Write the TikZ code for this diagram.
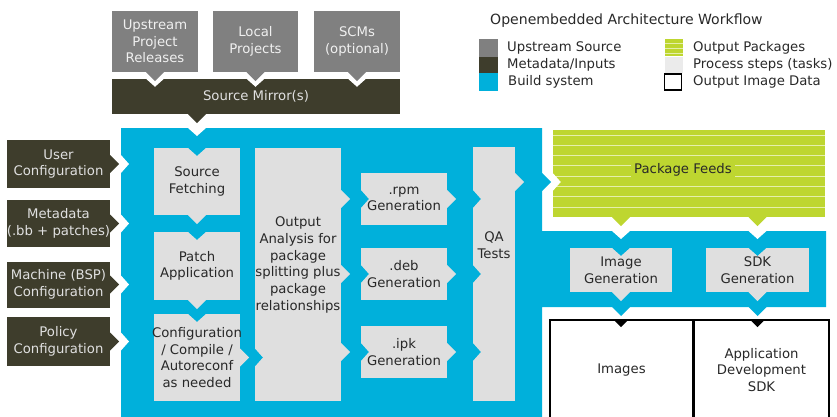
\documentclass[tikz,border=0pt]{standalone}
\usepackage{fontspec}
\setmainfont{DejaVu Sans}
\usetikzlibrary{calc}

\definecolor{cupstream}{RGB}{128,128,128}
\definecolor{cmeta}{RGB}{62,61,44}
\definecolor{cbuild}{RGB}{0,176,219}
\definecolor{ctask}{RGB}{223,223,223}
\definecolor{cpkg}{RGB}{190,214,48}
\definecolor{ctxt}{RGB}{40,40,40}

\tikzset{
  sz/.style 2 args={minimum width=#1*0.03cm, minimum height=#2*0.03cm},
  base/.style={inner sep=0pt, align=center, font=\fontsize{11.3}{14.2}\selectfont},
  upbox/.style={base, fill=cupstream, text=white!94!black},
  metabox/.style={base, fill=cmeta, text=white!88!black},
  taskbox/.style={base, fill=ctask, text=ctxt},
  outbox/.style={base, draw=black, line width=1.4pt, fill=white, text=ctxt},
  legtxt/.style={base, anchor=west, text=ctxt},
}

\begin{document}
\begin{tikzpicture}[x=0.03cm,y=-0.03cm]
\useasboundingbox (0,0) rectangle (837,416);

% build system area
\fill[cbuild] (121,128) -- (542,128) -- (542,231) -- (826,231) -- (826,307)
   -- (542,307) -- (542,420) -- (121,420) -- cycle;
\coordinate (btop) at (197,128);
\coordinate (bleft) at (121,0);
\coordinate (bright) at (542,182);
\coordinate (bband) at (0,231);
\coordinate (bbot) at (0,307);

% upstream sources
\node[upbox,sz={86}{61}] (upr) at (155,41.5) {Upstream\\Project\\Releases};
\node[upbox,sz={85}{61}] (lp) at (255.5,41.5) {Local\\Projects};
\node[upbox,sz={86}{61}] (scm) at (357,41.5) {SCMs\\(optional)};
\node[metabox,sz={288}{35}] (mirror) at (256,96.5) {Source Mirror(s)};

% inputs
\node[metabox,sz={103}{48}] (ucfg) at (58.5,164) {User\\Configuration};
\node[metabox,sz={103}{47}] (mdata) at (58.5,223.5) {};
\node[base,text=white!88!black] (mdatat) at (mdata) {Metadata\\(.bb + patches)};
\node[metabox,sz={103}{46}] (mach) at (58.5,284.5) {Machine (BSP)\\Configuration};
\node[metabox,sz={103}{49}] (pol) at (58.5,341.5) {Policy\\Configuration};

% tasks
\node[taskbox,sz={86}{67}] (sf) at (197,181.5) {Source\\Fetching};
\node[taskbox,sz={86}{68}] (pa) at (197,266) {Patch\\Application};
\node[taskbox,sz={86}{87}] (cc) at (197,357.5) {};
\node[base,text=ctxt] (cct) at (cc) {Configuration\\/ Compile /\\Autoreconf\\as needed};
\node[taskbox,sz={86}{253}] (oa) at (298,274.5) {};
\node[base,text=ctxt] (oat) at (298,265) {Output\\Analysis for\\package\\splitting plus\\package\\relationships};
\node[taskbox,sz={86}{52}] (rpm) at (404,199) {.rpm\\Generation};
\node[taskbox,sz={86}{52}] (deb) at (404,274) {.deb\\Generation};
\node[taskbox,sz={86}{52}] (ipk) at (404,352) {.ipk\\Generation};
\node[taskbox,sz={42}{254}] (qa) at (494,274) {};
\node[base,text=ctxt] (qat) at (494,245) {QA\\Tests};
\node[taskbox,sz={102}{44}] (ig) at (621,270) {Image\\Generation};
\node[taskbox,sz={103}{44}] (sdk) at (757.5,270) {SDK\\Generation};

% package feeds
\node[base,fill=cpkg,sz={272}{87}] (pkg) at (689,173.5) {};
\foreach \y in {135,145.3,...,214}
   \draw[white!60!cpkg, line width=0.7pt] (pkg.west |- 0,\y) -- (pkg.east |- 0,\y);
\node[base,fill=cpkg,text=ctxt,inner sep=3pt] (pkgt) at (683,170) {Package Feeds};

% output image data
\node[outbox,sz={143}{100}] (img) at (621.5,370) {Images};
\node[outbox,sz={135}{100}] (app) at (761.5,370) {Application\\Development\\SDK};

% notches
\foreach \p/\c in {ucfg.east -| bleft/white, mdata.east -| bleft/white,
   mach.east -| bleft/white, pol.east -| bleft/white, bright -| pkg.west/white,
   cc.east -| oa.west/cbuild, rpm.west/cbuild, deb.west/cbuild, ipk.west/cbuild,
   rpm.east -| qa.west/cbuild, deb.east -| qa.west/cbuild, ipk.east -| qa.west/cbuild}
   \fill[\c] ($(\p)+(0,-9)$) -- ($(\p)+(8,0)$) -- ($(\p)+(0,9)$) -- cycle;
\foreach \p/\c in {upr.south |- mirror.north/white, lp.south |- mirror.north/white,
   scm.south |- mirror.north/white, btop/white, ig.north |- bband/white,
   sdk.north |- bband/white, sf.north/cbuild, pa.north/cbuild, cc.north/cbuild,
   ig.north/cbuild, sdk.north/cbuild}
   \fill[\c] ($(\p)+(-9,0)$) -- ($(\p)+(0,8)$) -- ($(\p)+(9,0)$) -- cycle;
\foreach \p in {ig.south |- img.north, sdk.south |- app.north}
   \fill[black] ($(\p)+(-8,0)$) -- ($(\p)+(0,8)$) -- ($(\p)+(8,0)$) -- cycle;

% tabs
\foreach \p/\c in {ucfg.east/cmeta, mdata.east/cmeta, mach.east/cmeta, pol.east/cmeta,
   cc.east/ctask, rpm.west -| oa.east/ctask, deb.west -| oa.east/ctask,
   ipk.west -| oa.east/ctask, rpm.east/ctask, deb.east/ctask, ipk.east/ctask,
   bright -| qa.east/ctask, bright/cbuild}
   \fill[\c] ($(\p)+(0,-9)$) -- ($(\p)+(9,0)$) -- ($(\p)+(0,9)$) -- cycle;
\foreach \p/\c in {upr.south/cupstream, lp.south/cupstream, scm.south/cupstream,
   sf.north |- mirror.south/cmeta, sf.south/ctask, pa.south/ctask,
   ig.south/ctask, sdk.south/ctask, ig.north |- pkg.south/cpkg,
   sdk.north |- pkg.south/cpkg, ig.south |- bbot/cbuild, sdk.south |- bbot/cbuild}
   \fill[\c] ($(\p)+(-9,0)$) -- ($(\p)+(0,9)$) -- ($(\p)+(9,0)$) -- cycle;

% legend
\node[base,text=ctxt,font=\fontsize{12}{14}\selectfont,anchor=west] (title) at (490,21)
   {Openembedded Architecture Workflow};
\node[base,fill=cupstream,sz={19}{18}] (lgup) at (488.5,48) {};
\node[base,fill=cmeta,sz={19}{16}] (lgmeta) at (488.5,65) {};
\node[base,fill=cbuild,sz={19}{18}] (lgbuild) at (488.5,82) {};
\node[legtxt] (lgupt) at (507,48) {Upstream Source};
\node[legtxt] (lgmetat) at (507,65) {Metadata/Inputs};
\node[legtxt] (lgbuildt) at (508,82) {Build system};
\node[base,fill=cpkg,sz={18}{17}] (lgpkg) at (674,47.5) {};
\foreach \y in {43,48,53}
   \draw[white!60!cpkg, line width=0.7pt] (lgpkg.west |- 0,\y) -- (lgpkg.east |- 0,\y);
\node[base,fill=white!92!black,sz={18}{16}] (lgtask) at (674,64.5) {};
\node[base,draw=black,line width=1.3pt,fill=white,sz={17}{16}] (lgout) at (673,82) {};
\node[legtxt] (lgpkgt) at (693,48) {Output Packages};
\node[legtxt] (lgtaskt) at (693,65) {Process steps (tasks)};
\node[legtxt] (lgoutt) at (693,82) {Output Image Data};
\end{tikzpicture}
\end{document}
